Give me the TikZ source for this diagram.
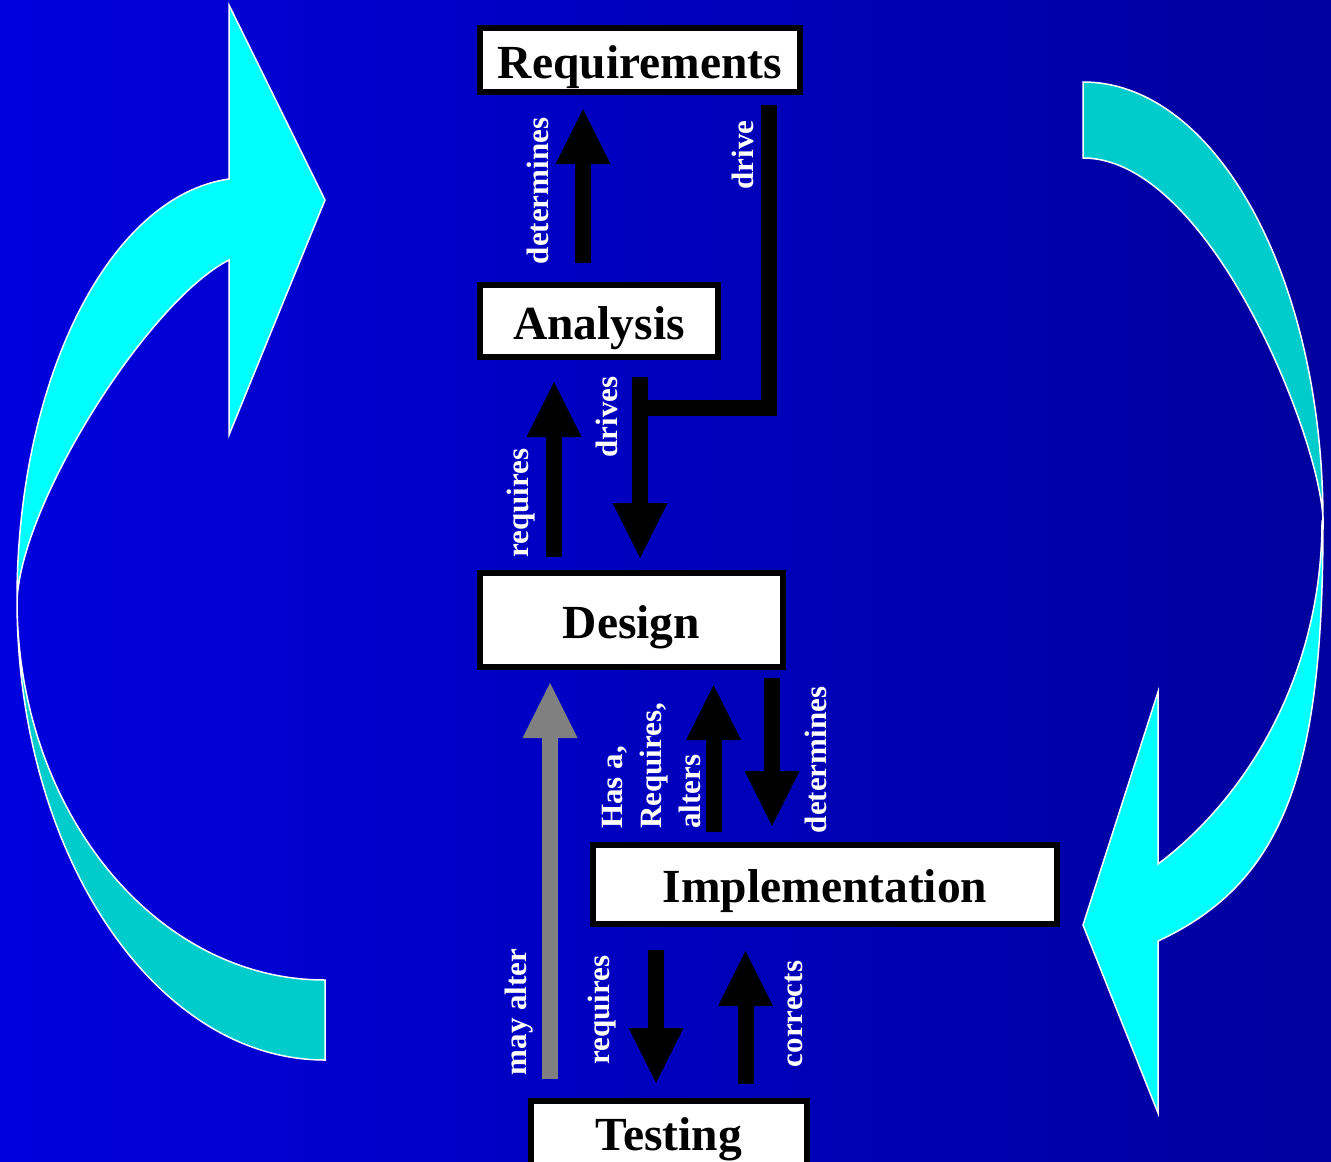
\documentclass[tikz,border=0pt]{standalone}
\usepackage{fontspec}
\setmainfont{Liberation Serif}
\usetikzlibrary{arrows.meta}
\definecolor{bgleft}{RGB}{0,0,221}
\definecolor{bgright}{RGB}{0,0,158}
\definecolor{cyanlight}{RGB}{0,255,255}
\definecolor{cyandark}{RGB}{0,204,204}
\definecolor{altergray}{RGB}{128,128,128}
\tikzset{
  phase/.style={draw=black, line width=6pt, fill=white,
    font=\fontsize{47.5}{50}\selectfont\bfseries,
    text height=36pt, text depth=0pt, inner sep=0pt},
  blk/.style={line width=16pt, draw=black,
    -{Triangle[width=55pt,length=55pt,line width=0pt]}},
  lbl/.style={text=white, font=\fontsize{31}{39}\selectfont\bfseries,
    rotate=90, inner sep=0pt},
  band/.style={draw=white, line width=1.5pt, line join=miter},
}
\begin{document}
\begin{tikzpicture}[x=1pt,y=-1pt]
  \useasboundingbox (0,0) rectangle (1331,1162);
  % background
  \shade[left color=bgleft, right color=bgright] (0,0) rectangle (1331,1162);

  % left cycle arrow: back band, then front band with head
  \path[band, fill=cyandark]
    (17,600) .. controls (17,854) and (155,1060) .. (325,1060)
    -- (325,980) .. controls (155,980) and (17,810) .. (17,600) -- cycle;
  \path[band, fill=cyanlight]
    (17,600) .. controls (17,380) and (109,196) .. (229,179)
    -- (229,5) -- (325,200) -- (229,435) -- (229,260)
    .. controls (150,300) and (22,500) .. (17,600) -- cycle;

  % right cycle arrow: back band, then front band with head
  \path[band, fill=cyandark]
    (1083,82) .. controls (1216,82) and (1323,278) .. (1323,521)
    .. controls (1322,442) and (1210,158) .. (1083,158) -- cycle;
  \path[band, fill=cyanlight]
    (1323,521) .. controls (1323,760) and (1290,880) .. (1158,941)
    -- (1158,1113) -- (1083,925) -- (1158,692) -- (1158,864)
    .. controls (1250,795) and (1322,671) .. (1322,521) -- cycle;

  % phases
  \node[phase, minimum width=320pt, minimum height=64pt] (req) at (640,60) {Requirements};
  \node[phase, minimum width=238pt, minimum height=72pt] (ana) at (599,321) {Analysis};
  \node[phase, minimum width=303pt, minimum height=94pt] (des) at (631.5,620) {Design};
  \node[phase, minimum width=464pt, minimum height=79pt] (imp) at (825,884.5) {Implementation};
  \node[phase, minimum width=276pt, minimum height=90pt, text depth=28pt] (tst) at (669,1146) {Testing};

  % relations
  \draw[blk, shorten <=19pt, shorten >=14pt] ([xshift=-16pt]ana.north) -- ([xshift=-57pt]req.south);
  \draw[line width=16pt, line join=miter] ([xshift=129pt,yshift=-10pt]req.south) |- ([xshift=42pt,yshift=-48pt]ana.south);
  \draw[blk, shorten <=13pt, shorten >=22pt] ([xshift=-77.5pt]des.north) -- ([xshift=-45pt]ana.south);
  \draw[blk, shorten <=17pt, shorten >=12pt] ([xshift=41pt]ana.south) -- ([xshift=8.5pt]des.north);
  \draw[blk, draw=altergray, shorten <=19pt, shorten >=13pt] ([xshift=-119pt]tst.north) -- ([xshift=-81.5pt]des.south);
  \draw[blk, shorten <=10pt, shorten >=15pt] ([xshift=-111.5pt]imp.north) -- ([xshift=82pt]des.south);
  \draw[blk, shorten <=8pt, shorten >=16pt] ([xshift=140.5pt]des.south) -- ([xshift=-53pt]imp.north);
  \draw[blk, shorten <=23pt, shorten >=15pt] ([xshift=-169pt]imp.south) -- ([xshift=-13pt]tst.north);
  \draw[blk, shorten <=14pt, shorten >=24pt] ([xshift=76.5pt]tst.north) -- ([xshift=-79.5pt]imp.south);

  % relation labels
  \node[lbl] (l1) at (538,191) {determines};
  \node[lbl] (l2) at (743,155) {drive};
  \node[lbl] (l3) at (607,417) {drives};
  \node[lbl] (l4) at (521,503) {requires};
  \node[lbl, align=left, anchor=west] (l5) at (651,829) {Has a,\\Requires,\\alters};
  \node[lbl] (l6) at (816,760) {determines};
  \node[lbl] (l7) at (519,1012) {may alter};
  \node[lbl] (l8) at (602,1010) {requires};
  \node[lbl] (l9) at (794,1014) {corrects};
\end{tikzpicture}
\end{document}
